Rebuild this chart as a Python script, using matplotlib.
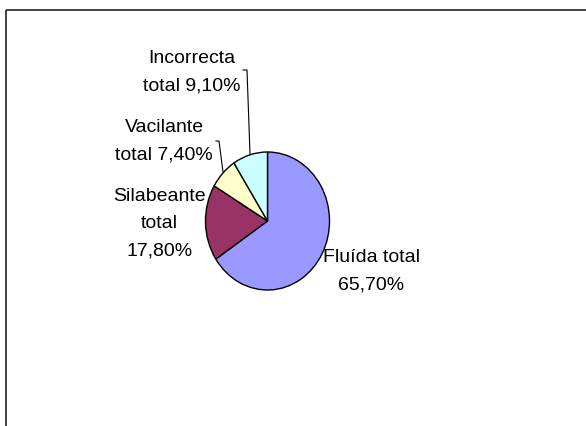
import matplotlib
matplotlib.use('Agg')
from matplotlib import pyplot as plt
from matplotlib.patches import Rectangle

plt.rcParams['font.family'] = ['Liberation Sans', 'DejaVu Sans']

# Leitura - distribuição por categoria
labels = ['Fluída total\n65,70%', 'Silabeante\ntotal\n17,80%', 'Vacilante\ntotal 7,40%', 'Incorrecta\ntotal 9,10%']
values = [65.7, 17.8, 7.4, 9.1]
colors = ['#9999FF', '#993366', '#FFFFCC', '#CCFFFF']

W, H = 586, 427
fig = plt.figure(figsize=(W / 100, H / 100), dpi=100)

# overlay axes in pixel coords (y down)
ov = fig.add_axes([0, 0, 1, 1])
ov.set_xlim(0, W)
ov.set_ylim(H, 0)
ov.axis('off')

# frame
ov.add_patch(Rectangle((5.5, 11), W + 20, H + 20, fill=False, edgecolor='#222222', lw=1.2))

# pie in its own (slightly elliptical) box
cx, cy, rx, ry = 267.5, 222, 62, 69
pax = fig.add_axes([(cx - rx) / W, (H - cy - ry) / H, 2 * rx / W, 2 * ry / H])
pax.pie(values, colors=colors, startangle=90, counterclock=False,
        wedgeprops=dict(edgecolor='black', linewidth=1.0))
pax.set_aspect('auto')
pax.set_xlim(-1, 1)
pax.set_ylim(-1, 1)
pax.axis('off')

label_pos = [(371.5, 271), (159.5, 224), (164, 141.5), (192, 72)]
for txt, (x, y) in zip(labels, label_pos):
    ov.text(x, y, txt, ha='center', va='center', multialignment='center',
            fontsize=14, linespacing=1.78, color='black')

# leader lines
ov.plot([243, 247, 250], [71, 71, 155], color='black', lw=0.8)
ov.plot([216, 219, 223], [142, 142, 173], color='black', lw=0.8)

fig.savefig('out.png', dpi=100)
